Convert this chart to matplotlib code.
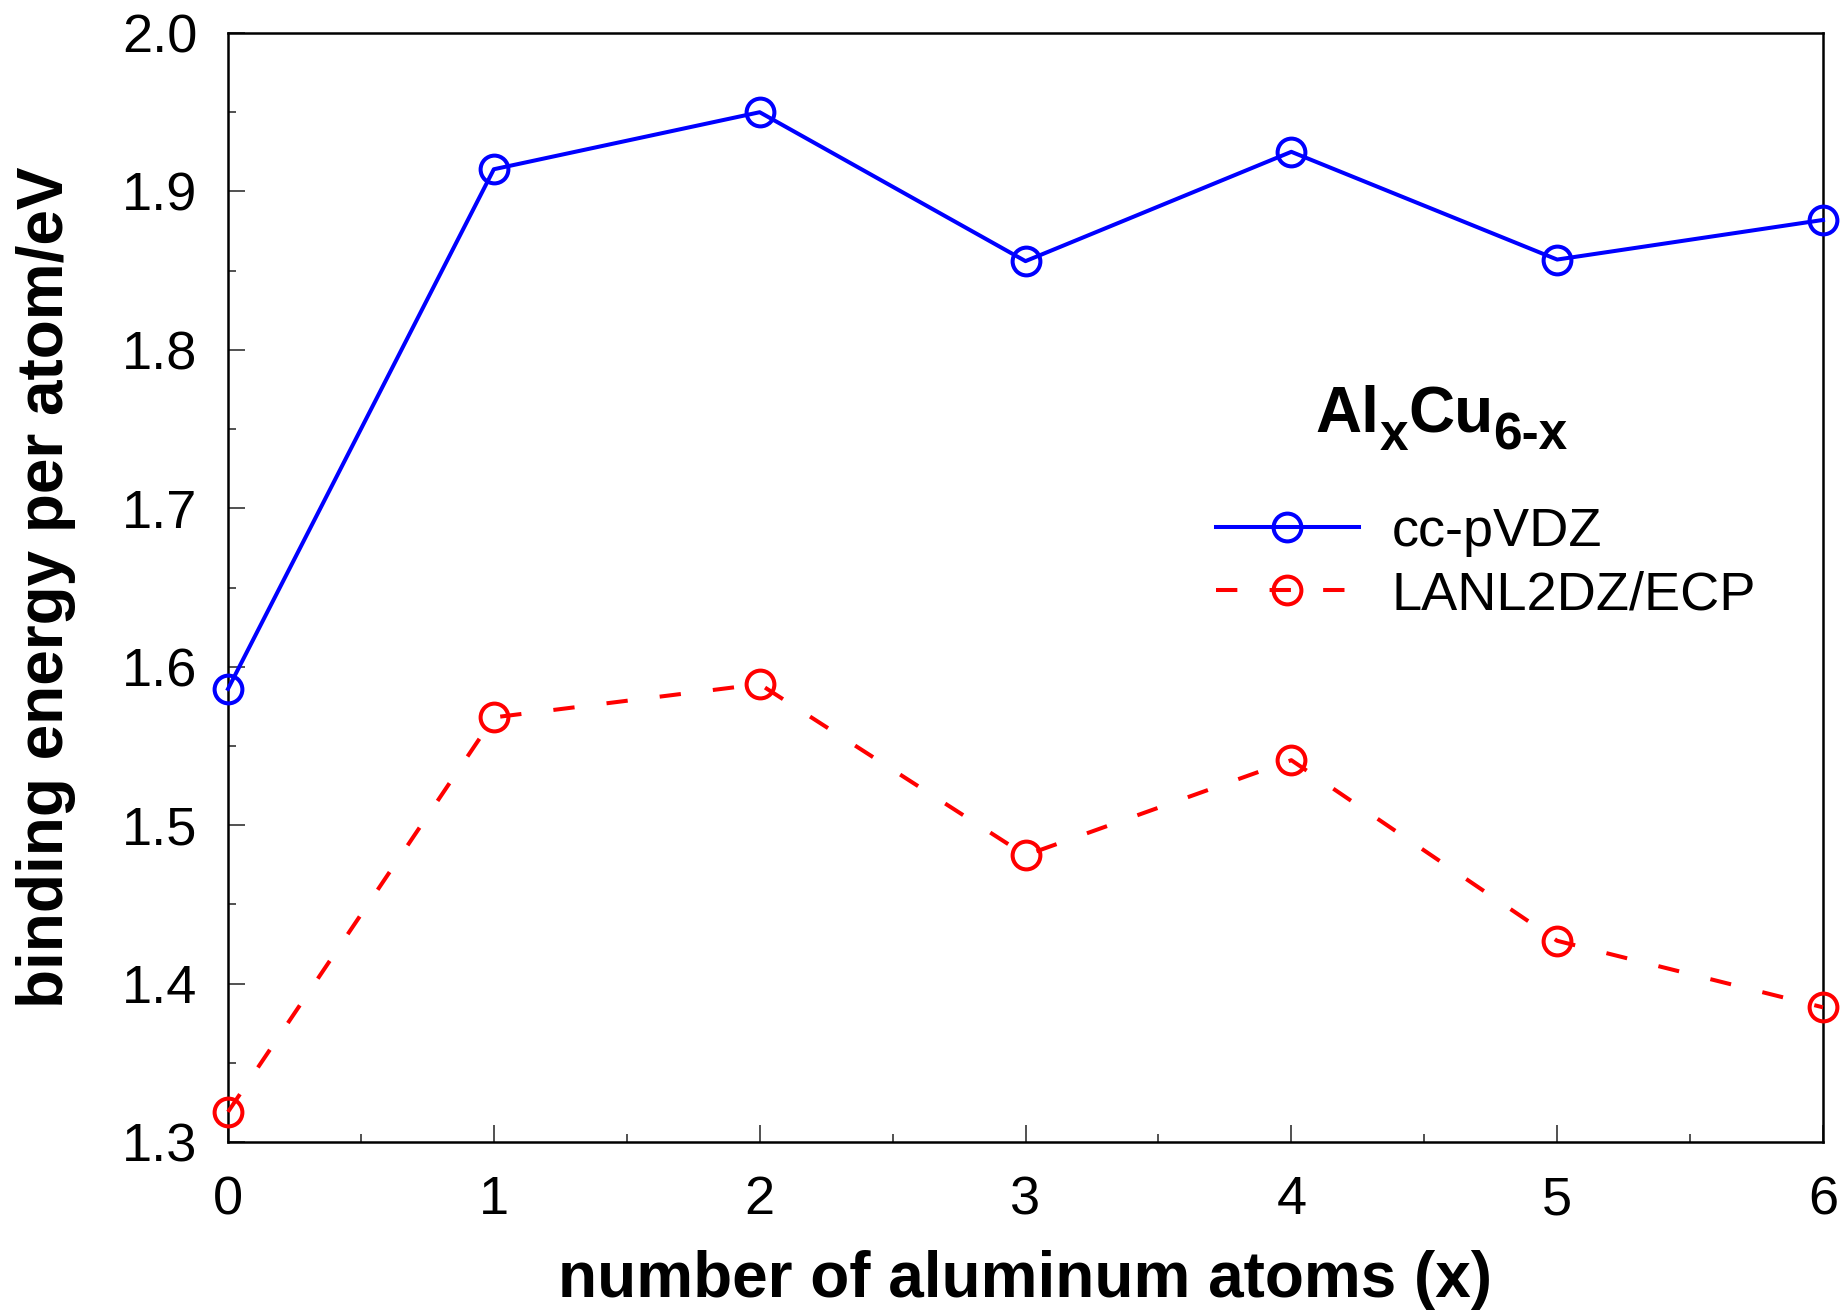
import numpy as np
import matplotlib.pyplot as plt
from matplotlib.ticker import MultipleLocator

plt.rcParams['font.family'] = ['Liberation Sans', 'DejaVu Sans']

# Data
n_al = [0, 1, 2, 3, 4, 5, 6]
e_ccpvdz = [1.586, 1.914, 1.950, 1.856, 1.925, 1.857, 1.882]
e_lanl2dz = [1.319, 1.568, 1.589, 1.481, 1.541, 1.427, 1.385]

fig = plt.figure(figsize=(18.45, 13.13), dpi=100)
ax = fig.add_axes([228 / 1845, 1 - 1142 / 1313, (1823 - 228) / 1845, (1142 - 33) / 1313])

ax.plot(n_al, e_ccpvdz, color='blue', lw=2.9, marker='o', ms=20,
        mfc='none', mec='blue', mew=2.9, label='cc-pVDZ', clip_on=False, zorder=3)
ax.plot(n_al, e_lanl2dz, color='red', lw=2.9, marker='o', ms=20,
        mfc='none', mec='red', mew=2.9, label='LANL2DZ/ECP', clip_on=False,
        dashes=(5.3, 8), dash_capstyle='butt', zorder=3)

ax.set_xlim(0, 6)
ax.set_ylim(1.3, 2.0)
ax.xaxis.set_major_locator(MultipleLocator(1))
ax.xaxis.set_minor_locator(MultipleLocator(0.5))
ax.yaxis.set_major_locator(MultipleLocator(0.1))
ax.yaxis.set_minor_locator(MultipleLocator(0.05))
ax.set_yticks(ax.get_yticks())
ax.set_yticklabels([f'{v:.1f}' for v in ax.get_yticks()])
ax.set_ylim(1.3, 2.0)

ax.tick_params(which='both', direction='in', top=False, right=False,
               labelsize=39, width=1.2, color='#333333')
ax.tick_params(which='major', length=12)
ax.tick_params(which='minor', length=6)
ax.tick_params(axis='y', which='major', pad=22)
ax.tick_params(axis='x', which='major', pad=24)
for s in ax.spines.values():
    s.set_linewidth(1.8)

ax.set_xlabel('number of aluminum atoms (x)', fontsize=46, fontweight='bold')
ax.set_ylabel('binding energy per atom/eV', fontsize=46, fontweight='bold')
ax.xaxis.set_label_coords(0.5, -0.0974)
ax.yaxis.set_label_coords(-0.0953, 0.5)

# legend title: Al_x Cu_(6-x) with real subscripts
big, small, drop = 46, 37, -11
t1 = ax.text(0.682, 0.640, 'Al', transform=ax.transAxes, fontsize=big,
             fontweight='bold', ha='left', va='baseline')
t2 = ax.annotate('x', xy=(1, 0), xycoords=t1, xytext=(0, drop),
                 textcoords='offset points', fontsize=small, fontweight='bold',
                 ha='left', va='bottom')
t3 = ax.annotate('Cu', xy=(1, 0), xycoords=(t2, t1), fontsize=big,
                 fontweight='bold', ha='left', va='bottom')
t4 = ax.annotate('6-x', xy=(1, 0), xycoords=(t3, t2), fontsize=small,
                 fontweight='bold', ha='left', va='bottom')

ax.legend(loc='center left', bbox_to_anchor=(0.6194, 0.5216), frameon=False,
          fontsize=39, handlelength=2.64, handletextpad=0.6, labelspacing=0.25,
          borderpad=0, borderaxespad=0)

fig.savefig('out.png', dpi=100)
